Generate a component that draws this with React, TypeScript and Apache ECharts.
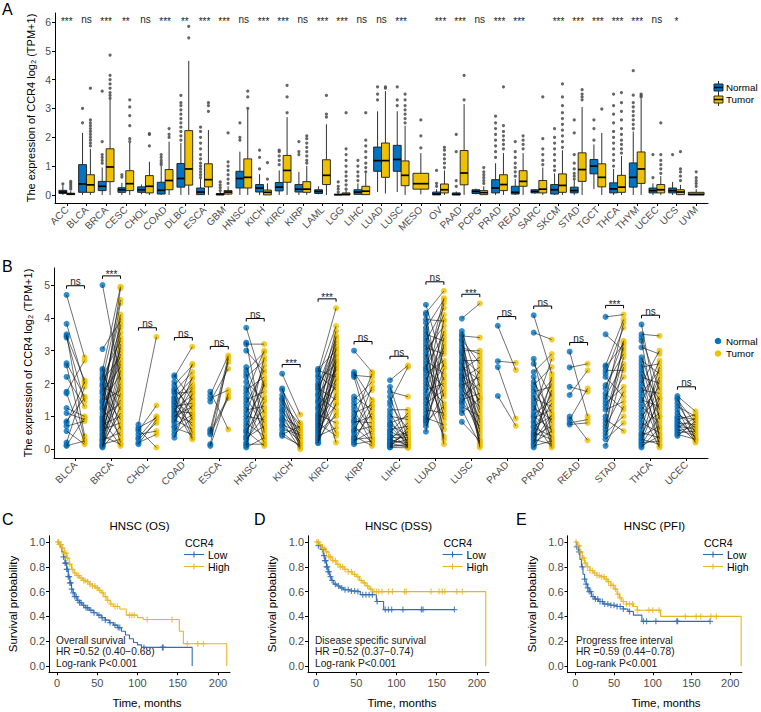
import React, { useEffect, useRef } from 'react';
import * as echarts from 'echarts';

const FONT = '"Liberation Sans", Arial, Helvetica, sans-serif';
const BLUE = '#0073C2';
const YELLOW = '#EFC000';
const KM_BLUE = '#2f6db5';
const KM_YELLOW = '#e8b623';
const TICK_COLOR = '#4d4d4d';

// ---------------- Panel A ----------------
const catsA = ['ACC', 'BLCA', 'BRCA', 'CESC', 'CHOL', 'COAD', 'DLBC', 'ESCA', 'GBM', 'HNSC', 'KICH', 'KIRC', 'KIRP', 'LAML', 'LGG', 'LIHC', 'LUAD', 'LUSC', 'MESO', 'OV', 'PAAD', 'PCPG', 'PRAD', 'READ', 'SARC', 'SKCM', 'STAD', 'TGCT', 'THCA', 'THYM', 'UCEC', 'UCS', 'UVM'];
const sigA = ['***', 'ns', '***', '**', 'ns', '***', '**', '***', '***', 'ns', '***', '***', 'ns', '***', '***', 'ns', 'ns', '***', '', '***', '***', 'ns', '***', '***', '', '***', '***', '***', '***', '***', 'ns', '*', ''];
// [min, Q1, median, Q3, max]
const normalBoxA: (number[] | null)[] = [
  [0, 0.05, 0.1, 0.16, 0.33], [0, 0.09, 0.38, 1.05, 2.15], [0, 0.15, 0.3, 0.47, 0.95], [0, 0.09, 0.18, 0.25, 0.42],
  [0.02, 0.09, 0.18, 0.28, 0.36], [0, 0.03, 0.16, 0.44, 1.0], [0, 0.27, 0.57, 1.09, 1.8], [0, 0.01, 0.1, 0.24, 0.55],
  [0, 0, 0.02, 0.05, 0.1], [0, 0.24, 0.57, 0.82, 1.5], [0, 0.1, 0.24, 0.36, 0.72], [0, 0.14, 0.27, 0.43, 0.85],
  [0, 0.1, 0.2, 0.36, 0.8], [0.02, 0.05, 0.12, 0.18, 0.3], [0, 0, 0.01, 0.02, 0.05], [0, 0.02, 0.1, 0.18, 0.4],
  [0.1, 0.82, 1.19, 1.66, 2.9], [0.1, 0.82, 1.23, 1.72, 2.9], null, [0, 0, 0.03, 0.1, 0.2],
  [0, 0, 0.02, 0.07, 0.12], [0.02, 0.05, 0.12, 0.18, 0.22], [0, 0.07, 0.24, 0.53, 1.1], [0, 0.03, 0.09, 0.3, 0.55],
  [0.04, 0.07, 0.12, 0.18, 0.2], [0, 0.03, 0.18, 0.36, 0.75], [0, 0.07, 0.15, 0.27, 0.5], [0.2, 0.73, 1.0, 1.23, 1.75],
  [0, 0.07, 0.21, 0.42, 0.9], [0, 0.27, 0.61, 1.11, 2.2], [0, 0.07, 0.15, 0.24, 0.4], [0, 0.07, 0.15, 0.24, 0.45], null,
];
const tumorBoxA: number[][] = [
  [0, 0.01, 0.03, 0.06, 0.13], [0, 0.09, 0.35, 0.7, 1.6], [0, 0.46, 0.97, 1.6, 3.3], [0, 0.15, 0.39, 0.84, 1.8],
  [0, 0.07, 0.3, 0.67, 1.15], [0, 0.18, 0.5, 0.88, 1.85], [0, 0.34, 0.9, 2.23, 4.65], [0, 0.28, 0.53, 1.08, 2.25],
  [0, 0.03, 0.1, 0.15, 0.3], [0, 0.24, 0.61, 1.25, 2.95], [0, 0, 0.09, 0.17, 0.4], [0, 0.44, 0.85, 1.37, 2.7],
  [0, 0.09, 0.2, 0.46, 1.0], [0, 0.36, 0.68, 1.22, 2.45], [0, 0, 0.02, 0.07, 0.15], [0, 0.01, 0.13, 0.3, 0.75],
  [0.05, 0.61, 1.19, 1.8, 3.6], [0, 0.32, 0.68, 1.18, 2.4], [0.02, 0.2, 0.39, 0.75, 1.45], [0, 0.07, 0.18, 0.38, 0.85],
  [0, 0.35, 0.76, 1.54, 3.15], [0, 0.01, 0.08, 0.15, 0.3], [0, 0.15, 0.36, 0.7, 1.45], [0, 0.3, 0.47, 0.84, 1.45],
  [0, 0.07, 0.2, 0.5, 0.95], [0, 0.09, 0.33, 0.73, 1.55], [0, 0.47, 0.88, 1.46, 3.05], [0, 0.28, 0.61, 1.08, 2.15],
  [0, 0.09, 0.27, 0.68, 1.35], [0, 0.4, 0.9, 1.49, 3.35], [0, 0.07, 0.18, 0.36, 0.65], [0, 0.01, 0.1, 0.18, 0.35], [0, 0, 0.02, 0.09, 0.2],
];
const normalOutA: number[][] = [
  [0.38], [2.5, 3.0], [1.1, 1.2, 1.3, 1.4, 1.85, 3.6], [0.62, 0.7], [], [1.05, 1.12, 1.2, 1.3, 1.4],
  [1.9, 2.05, 2.2, 2.35, 2.5, 2.65, 2.8, 2.95, 3.1, 3.2, 3.45], [0.6, 0.7, 0.8, 0.9, 1.0, 1.1, 1.25, 1.4, 1.6, 1.8, 2.0, 2.2, 2.35],
  [0.15, 0.25, 0.35, 0.45], [1.9, 2.0, 2.5], [0.9, 1.3, 1.55], [1.05, 1.2, 1.35, 1.5, 1.55], [1.4, 1.5, 1.85], [],
  [0.1, 0.2, 0.3, 0.45], [0.5, 0.65, 0.8, 1.0, 1.2], [3.3, 3.5, 3.75], [3.1, 3.3, 3.75], [], [0.3, 0.4, 0.85],
  [0.3, 0.5, 1.5, 2.1], [], [1.3, 1.5, 1.7, 1.9, 2.1, 2.3, 2.5, 2.73], [0.65, 0.8, 0.95, 1.1, 1.3, 1.5, 1.85], [],
  [0.85, 1.0, 1.2, 1.4, 1.6, 1.8, 2.0, 2.3], [0.55, 0.65, 0.75, 0.9, 1.1, 1.4, 2.15, 2.6], [1.9, 2.3, 2.6],
  [1.0, 1.2, 1.4, 1.6, 1.8, 2.0, 2.2, 2.5, 2.8, 3.1, 3.5], [2.3, 2.45, 2.6, 2.75, 2.9, 3.05, 3.2, 3.46, 4.31], [0.6, 1.4], [1.4], [],
];
const tumorOutA: number[][] = [
  [0.2, 0.27, 0.34, 0.41, 0.47], [1.7, 1.8, 1.9, 2.0, 2.1, 2.2, 2.3, 2.4, 2.5, 2.6, 3.7], [3.35, 3.45, 3.55, 3.7, 3.85, 4.0, 4.15, 4.85],
  [1.85, 1.95, 2.4, 2.75, 3.05, 3.3], [1.7, 2.1, 2.13], [2.0, 2.1, 2.3], [5.45, 5.85], [2.9, 3.1, 3.2],
  [0.4, 0.55, 0.7, 0.85, 1.0, 1.15, 2.15], [3.0, 3.4, 3.6], [0.55, 1.12], [2.85, 3.4, 3.8],
  [1.1, 1.2, 1.35, 1.5, 1.65, 1.8, 1.95, 2.05], [2.7, 2.8, 3.45], [0.2, 0.35, 0.5, 0.65, 0.8, 1.0, 1.2, 1.4, 1.6, 2.85],
  [0.8, 0.95, 1.1, 1.3, 1.5, 1.7, 1.9, 2.85], [3.7, 3.75], [2.5, 2.65, 2.8, 2.95, 3.1, 3.3, 3.5], [1.63, 2.05, 2.6],
  [0.95, 1.1, 1.25, 1.4, 1.55, 1.65], [3.3, 4.15], [0.4, 0.5, 0.6, 0.7, 0.8, 0.95], [1.6, 1.75, 1.9, 2.05, 2.2, 2.4, 3.75],
  [1.6, 1.75, 1.9, 2.05], [1.05, 1.2, 1.4, 1.6, 1.95, 3.4], [1.65, 1.85, 2.05, 2.25, 2.45, 2.65, 2.85, 3.1, 3.4, 3.85],
  [3.3, 3.4, 3.5, 3.65], [2.98], [1.45, 1.6, 1.75, 1.9, 2.1, 2.3, 2.6, 2.9, 3.2, 3.55], [3.4, 3.45, 3.5],
  [0.75, 0.9, 1.05, 1.2, 1.4, 2.5], [0.5, 0.65, 0.8, 0.9, 1.5], [0.3, 0.4, 0.5, 0.6, 0.8],
];

// ---------------- Panel B (paired: normalB[k][i] <-> tumorB[k][i]) ----------------
const catsB = ['BLCA', 'BRCA', 'CHOL', 'COAD', 'ESCA', 'HNSC', 'KICH', 'KIRC', 'KIRP', 'LIHC', 'LUAD', 'LUSC', 'PAAD', 'PRAD', 'READ', 'STAD', 'THCA', 'UCEC'];
const sigB = ['ns', '***', 'ns', 'ns', 'ns', 'ns', '***', '***', 'ns', 'ns', 'ns', '***', 'ns', 'ns', 'ns', '***', 'ns', 'ns'];
const normalB: number[][] = [
  [4.7, 3.82, 3.5, 3.45, 3.4, 2.62, 2.55, 2.2, 1.75, 1.7, 1.25, 1.1, 0.85, 0.8, 0.7, 0.55, 0.2, 0.12, 0.1],
  [5.0, 3.05, 2.45, 2.4, 2.3, 2.2, 2.15, 2.1, 2.0, 1.95, 1.9, 1.8, 1.75, 1.7, 1.6, 1.5, 1.45, 1.4, 1.3, 1.25, 1.2, 1.1, 1.0, 0.95, 0.9, 0.85, 0.8, 0.75, 0.7, 0.65, 0.6, 0.55, 0.5, 0.45, 0.4, 0.35, 0.3, 0.28, 0.25, 0.2, 0.15, 0.12, 0.1, 0.08, 0.05],
  [0.75, 0.65, 0.6, 0.55, 0.45, 0.35, 0.3, 0.2, 0.15],
  [2.25, 2.2, 2.05, 1.95, 1.85, 1.8, 1.75, 1.7, 1.6, 1.55, 1.5, 1.45, 1.4, 1.35, 1.3, 1.25, 1.2, 1.15, 1.1, 1.05, 1.0, 0.95, 0.9, 0.85, 0.8, 0.7, 0.65, 0.55, 0.45, 0.35],
  [1.75, 1.65, 1.55, 1.45, 0.6, 0.55, 0.5, 0.45, 0.15, 0.1],
  [3.7, 3.25, 3.2, 3.0, 2.5, 2.4, 2.3, 2.2, 2.05, 1.9, 1.8, 1.7, 1.6, 1.5, 1.4, 1.3, 1.2, 1.1, 1.0, 0.9, 0.8, 0.7, 0.6, 0.55, 0.5, 0.4, 0.35, 0.3, 0.2, 0.15, 0.1, 0.05],
  [2.3, 1.85, 1.8, 1.65, 1.55, 1.5, 1.4, 1.3, 1.2, 1.15, 1.05, 0.95, 0.9, 0.85, 0.75, 0.7, 0.6, 0.5, 0.45, 0.4],
  [2.45, 2.4, 2.35, 2.25, 2.2, 2.1, 2.0, 1.95, 1.9, 1.85, 1.8, 1.7, 1.65, 1.6, 1.5, 1.45, 1.4, 1.3, 1.25, 1.2, 1.1, 1.05, 1.0, 0.95, 0.9, 0.85, 0.8, 0.75, 0.7, 0.65, 0.6, 0.55, 0.5, 0.45, 0.4, 0.35, 0.3, 0.25, 0.2, 0.18],
  [3.0, 2.35, 2.3, 2.25, 2.2, 1.6, 1.5, 1.4, 1.3, 1.2, 1.1, 1.0, 0.9, 0.85, 0.8, 0.7, 0.6, 0.55, 0.5, 0.4, 0.35, 0.3, 0.25, 0.2, 0.15],
  [2.1, 1.9, 1.75, 1.6, 1.45, 1.35, 1.2, 1.1, 1.0, 0.9, 0.8, 0.75, 0.7, 0.6, 0.55, 0.5, 0.45, 0.4, 0.35, 0.3, 0.28, 0.25, 0.2, 0.18, 0.15, 0.12, 0.1, 0.08, 0.06, 0.05],
  [4.4, 4.15, 4.1, 3.95, 3.85, 3.7, 3.6, 3.5, 3.4, 3.3, 3.2, 3.1, 3.0, 2.9, 2.8, 2.7, 2.6, 2.5, 2.45, 2.4, 2.3, 2.2, 2.1, 2.0, 1.9, 1.8, 1.7, 1.6, 1.5, 1.4, 1.3, 1.2, 1.1, 1.0, 0.95, 0.9, 0.85, 0.8, 0.7, 0.53],
  [3.98, 3.6, 3.5, 3.45, 3.35, 3.3, 3.2, 3.1, 3.0, 2.95, 2.9, 2.8, 2.7, 2.65, 2.6, 2.5, 2.45, 2.4, 2.3, 2.25, 2.2, 2.15, 2.1, 2.0, 1.95, 1.9, 1.8, 1.7, 1.6, 1.5, 1.45, 1.4, 1.3, 1.2, 1.1, 0.83],
  [3.76, 2.68, 2.5, 1.62],
  [4.08, 3.55, 2.75, 2.6, 2.35, 2.2, 2.05, 1.95, 1.85, 1.75, 1.65, 1.55, 1.45, 1.35, 1.25, 1.15, 1.05, 1.0, 0.95, 0.85, 0.8, 0.7, 0.65, 0.55, 0.5, 0.45, 0.4, 0.35, 0.3, 0.25, 0.2, 0.15, 0.1, 0.05],
  [2.97, 2.49, 1.9, 1.65, 0.99, 0.9, 0.8, 0.75],
  [4.03, 3.5, 2.55, 2.5, 2.4, 2.3, 2.2, 1.95, 1.85, 1.7, 1.6, 1.5, 1.4, 1.3, 1.2, 1.0, 0.9, 0.8, 0.7, 0.6, 0.5, 0.4, 0.3, 0.1],
  [3.8, 3.5, 3.4, 3.3, 3.1, 2.8, 2.7, 2.6, 2.5, 2.4, 2.3, 2.2, 2.1, 2.0, 1.9, 1.8, 1.7, 1.6, 1.5, 1.4, 1.3, 1.2, 1.1, 1.0, 0.9, 0.8, 0.7, 0.6, 0.5, 0.45, 0.4, 0.35, 0.3, 0.25, 0.2, 0.15, 0.1, 0.05],
  [1.62, 1.55, 1.5, 1.4, 1.3, 1.2, 1.1, 1.0, 0.95, 0.9, 0.85, 0.8, 0.75, 0.7, 0.65, 0.6, 0.55, 0.5, 0.45, 0.4],
];
const tumorB: number[][] = [
  [2.8, 2.0, 0.4, 2.1, 1.45, 1.6, 0.3, 1.3, 2.7, 0.2, 1.0, 0.9, 1.55, 2.05, 0.85, 0.15, 1.9, 0.95, 0.25],
  [2.1, 3.9, 0.6, 4.95, 1.2, 3.3, 4.55, 2.8, 0.2, 3.7, 1.6, 4.1, 2.5, 0.9, 3.0, 4.45, 1.8, 2.3, 3.55, 0.4, 4.9, 2.7, 1.4, 3.1, 0.1, 2.9, 4.0, 1.0, 3.4, 2.0, 0.8, 3.8, 1.5, 2.6, 0.15, 3.2, 1.9, 0.5, 2.4, 1.1, 0.3, 1.7, 2.2, 1.3, 0.7],
  [3.42, 0.95, 0.05, 1.33, 0.55, 1.0, 0.8, 0.45, 0.9],
  [1.5, 3.12, 0.9, 2.55, 1.2, 0.5, 2.35, 1.75, 0.35, 2.15, 1.0, 1.9, 0.7, 2.0, 1.4, 0.3, 1.65, 1.1, 2.6, 0.8, 1.3, 1.85, 0.6, 1.55, 2.2, 1.05, 0.45, 1.35, 0.95, 1.7],
  [0.6, 2.85, 1.8, 2.45, 2.8, 1.6, 2.65, 1.55, 2.75, 1.7],
  [1.9, 0.5, 3.2, 2.35, 1.1, 2.95, 0.3, 2.7, 1.5, 0.8, 2.2, 3.0, 0.6, 1.75, 2.4, 0.2, 1.3, 2.55, 0.9, 1.95, 0.4, 2.1, 1.2, 0.1, 1.6, 2.8, 0.7, 1.0, 1.45, 0.15, 2.0, 0.35],
  [1.05, 0.3, 0.8, 0.15, 0.6, 0.05, 0.75, 0.4, 0.2, 0.55, 0.1, 0.65, 0.35, 0.0, 0.5, 0.25, 0.45, 0.08, 0.7, 0.12],
  [3.0, 2.2, 4.3, 1.8, 3.75, 2.6, 0.2, 3.4, 2.9, 1.5, 3.2, 2.4, 3.6, 1.2, 2.75, 3.3, 0.5, 2.1, 3.1, 1.9, 2.5, 0.8, 3.45, 2.3, 1.6, 2.85, 0.4, 2.0, 3.05, 1.35, 2.65, 1.0, 2.45, 1.7, 0.65, 2.15, 1.1, 2.55, 1.4, 2.7],
  [2.35, 1.5, 0.9, 2.2, 0.3, 1.2, 2.05, 0.6, 1.8, 0.15, 1.35, 0.45, 2.3, 0.8, 1.0, 0.2, 1.45, 0.7, 1.9, 0.1, 1.1, 0.35, 0.55, 1.3, 0.25],
  [2.55, 0.3, 1.6, 0.1, 2.5, 0.6, 1.2, 0.2, 0.9, 0.05, 1.0, 0.4, 0.15, 0.7, 0.25, 1.1, 0.08, 0.5, 0.35, 0.12, 0.8, 0.2, 0.45, 0.06, 0.3, 0.55, 0.1, 0.15, 0.65, 0.04],
  [2.5, 4.82, 1.2, 3.9, 0.3, 4.55, 2.1, 3.3, 1.6, 4.3, 0.15, 2.9, 3.75, 1.0, 4.1, 2.3, 0.6, 3.5, 1.9, 4.6, 2.7, 0.9, 3.1, 1.4, 4.45, 2.0, 3.6, 0.4, 2.6, 1.8, 3.0, 1.1, 3.95, 2.2, 0.75, 3.4, 1.3, 2.45, 1.7, 3.2],
  [4.44, 1.9, 0.1, 3.4, 2.6, 1.2, 0.5, 2.9, 3.0, 1.6, 0.05, 2.3, 2.7, 0.8, 1.4, 2.1, 0.3, 2.8, 1.1, 1.8, 0.2, 2.5, 1.5, 0.9, 2.2, 0.6, 1.3, 0.4, 2.0, 1.7, 0.7, 2.4, 1.0, 0.15, 1.55, 0.25],
  [2.41, 2.63, 0.93, 0.71],
  [2.3, 3.34, 0.5, 1.6, 2.9, 0.2, 1.1, 2.5, 0.8, 1.9, 0.1, 1.3, 2.1, 0.35, 0.9, 2.75, 1.5, 0.6, 1.2, 0.05, 2.0, 1.0, 0.4, 1.7, 0.3, 1.4, 0.7, 1.8, 0.15, 1.05, 0.55, 2.2, 0.25, 0.95],
  [1.0, 2.6, 1.75, 2.4, 0.27, 1.85, 0.9, 0.8],
  [4.1, 3.0, 3.95, 3.2, 2.4, 3.7, 1.6, 2.9, 3.3, 1.2, 2.6, 3.85, 1.9, 2.2, 1.45, 3.1, 0.55, 2.8, 1.75, 3.25, 1.0, 2.5, 0.8, 1.3],
  [0.9, 3.45, 1.8, 0.3, 2.9, 1.2, 2.3, 0.6, 2.6, 1.5, 0.1, 2.0, 1.0, 3.0, 0.45, 1.7, 2.4, 0.2, 1.3, 2.7, 0.8, 1.9, 0.05, 1.6, 2.2, 0.5, 1.1, 2.5, 0.35, 1.4, 0.7, 2.1, 0.15, 1.55, 0.25, 1.0, 0.4, 0.65],
  [1.15, 0.3, 0.8, 0.5, 1.0, 0.2, 0.65, 0.9, 0.35, 1.05, 0.45, 0.75, 0.25, 0.6, 0.95, 0.4, 0.7, 0.55, 0.3, 0.85],
];

// ---------------- Panels C/D/E: Kaplan-Meier [time, survival] ----------------
const osLow = [[0, 1], [2, 0.98], [4, 0.96], [6, 0.92], [8, 0.88], [10, 0.83], [12, 0.78], [14, 0.72], [16, 0.67], [18, 0.62], [20, 0.59], [22, 0.56], [25, 0.53], [28, 0.51], [31, 0.49], [35, 0.47], [40, 0.45], [45, 0.43], [50, 0.41], [55, 0.39], [60, 0.37], [65, 0.35], [70, 0.33], [75, 0.31], [80, 0.28], [85, 0.25], [90, 0.22], [95, 0.19], [100, 0.17], [105, 0.15], [168, 0]];
const osHigh = [[0, 1], [3, 0.98], [6, 0.95], [9, 0.91], [12, 0.87], [15, 0.82], [18, 0.78], [21, 0.75], [24, 0.73], [28, 0.71], [32, 0.69], [36, 0.68], [40, 0.66], [44, 0.645], [48, 0.63], [52, 0.61], [55, 0.59], [58, 0.56], [62, 0.53], [66, 0.5], [70, 0.48], [78, 0.46], [86, 0.41], [100, 0.39], [107, 0.375], [152, 0.28], [157, 0.18], [211, 0]];
const osLowCens = [8, 10, 11, 12, 13, 14, 15, 16, 17, 18, 20, 22, 24, 26, 28, 30, 33, 36, 38, 42, 46, 52, 56, 60, 66, 72, 76, 78, 108, 131, 132];
const osHighCens = [1, 2, 3, 4, 5, 7, 9, 11, 13, 16, 19, 22, 25, 27, 30, 33, 35, 38, 41, 44, 47, 50, 53, 57, 60, 63, 67, 72, 75, 90, 93, 96, 112, 143, 162, 175, 182];

const dssLow = [[0, 1], [3, 0.97], [6, 0.94], [9, 0.89], [11, 0.85], [13, 0.8], [15, 0.76], [17, 0.72], [19, 0.69], [22, 0.66], [26, 0.645], [30, 0.63], [34, 0.615], [42, 0.605], [52, 0.6], [55, 0.575], [75, 0.52], [84, 0.455], [172, 0.455]];
const dssHigh = [[0, 1], [4, 0.98], [8, 0.95], [12, 0.92], [16, 0.88], [20, 0.85], [25, 0.82], [30, 0.8], [35, 0.78], [40, 0.76], [45, 0.74], [50, 0.72], [54, 0.69], [58, 0.67], [62, 0.645], [66, 0.62], [70, 0.6], [211, 0]];
const dssLowCens = [3, 8, 10, 11, 12, 13, 14, 15, 16, 18, 20, 24, 28, 32, 36, 40, 44, 48, 52, 58, 62, 66, 70, 76, 86, 90, 94, 108, 131, 133, 172];
const dssHighCens = [1, 3, 5, 8, 10, 13, 16, 18, 21, 24, 27, 30, 33, 36, 40, 44, 48, 52, 56, 60, 64, 68, 72, 75, 78, 82, 90, 95, 110, 112, 143, 153, 157, 160, 175, 182];

const pfiLow = [[0, 1], [2, 0.96], [4, 0.92], [6, 0.86], [8, 0.8], [10, 0.74], [12, 0.7], [14, 0.66], [16, 0.63], [18, 0.6], [21, 0.56], [25, 0.54], [30, 0.52], [36, 0.5], [45, 0.49], [54, 0.48], [62, 0.46], [68, 0.44], [75, 0.41], [86, 0.36], [174, 0.36]];
const pfiHigh = [[0, 1], [3, 0.97], [6, 0.92], [9, 0.87], [12, 0.83], [15, 0.8], [19, 0.77], [23, 0.75], [28, 0.73], [33, 0.72], [38, 0.7], [42, 0.68], [46, 0.65], [50, 0.62], [54, 0.58], [57, 0.55], [60, 0.52], [66, 0.5], [75, 0.48], [80, 0.45], [110, 0.4], [214, 0]];
const pfiLowCens = [2, 5, 9, 12, 14, 16, 18, 20, 23, 26, 29, 32, 35, 38, 42, 46, 50, 54, 58, 62, 70, 88, 92, 104, 131, 132, 174];
const pfiHighCens = [1, 3, 5, 7, 9, 11, 13, 16, 19, 22, 25, 28, 31, 34, 37, 40, 43, 46, 49, 52, 55, 58, 62, 66, 70, 74, 80, 95, 100, 108, 142, 156, 162, 175, 182];

const kmTitles = ['HNSC (OS)', 'HNSC (DSS)', 'HNSC (PFI)'];
const kmNotes = [
  ['Overall survival', 'HR =0.52 (0.40\u22120.68)', 'Log-rank P<0.001'],
  ['Disease specific survival', 'HR =0.52 (0.37\u22120.74)', 'Log-rank P<0.001'],
  ['Progress free interval', 'HR =0.59 (0.44\u22120.78)', 'Log-rank P<0.001'],
];
const kmTimeTicks = [0, 50, 100, 150, 200];
const kmSurvTicks = [0, 0.2, 0.4, 0.6, 0.8, 1];

function survAt(curve: number[][], t: number) {
  let s = 1;
  for (const [tt, ss] of curve) {
    if (tt <= t) s = ss;
    else break;
  }
  return s;
}

const axisLineStyle = { show: true, onZero: false, lineStyle: { color: '#000', width: 1 } };
const axisTickBase = { show: true, length: 3, lineStyle: { color: '#000', width: 1 } };

function buildOption(): any {
  const idxA = catsA.map((_, i) => i + 1);
  const idxB = catsB.map((_, i) => i + 1);

  // Panel A boxes
  const boxData: any[] = [];
  const outN: number[][] = [];
  const outT: number[][] = [];
  catsA.forEach((_, i) => {
    const n = normalBoxA[i];
    const t = tumorBoxA[i];
    const x = i + 1;
    if (n) {
      boxData.push([x, -0.2, 0.4, ...n, 0]);
      boxData.push([x, 0.2, 0.4, ...t, 1]);
      normalOutA[i].forEach((v) => outN.push([x - 0.2, v]));
      tumorOutA[i].forEach((v) => outT.push([x + 0.2, v]));
    } else {
      boxData.push([x, 0, 0.8, ...t, 1]);
      tumorOutA[i].forEach((v) => outT.push([x, v]));
    }
  });

  // Panel B
  const ptsN: number[][] = [];
  const ptsT: number[][] = [];
  const pairs: number[][] = [];
  const brackets: number[][] = [];
  catsB.forEach((_, k) => {
    const x = k + 1;
    const nn = normalB[k];
    const tt = tumorB[k];
    const m = Math.min(nn.length, tt.length);
    for (let i = 0; i < m; i++) {
      ptsN.push([x - 0.25, nn[i]]);
      ptsT.push([x + 0.25, tt[i]]);
      pairs.push([x, nn[i], tt[i]]);
    }
    const mx = Math.max(...nn, ...tt);
    brackets.push([x, mx + 0.28, k]);
  });

  const kmSets = [
    { low: osLow, high: osHigh, lowC: osLowCens, highC: osHighCens },
    { low: dssLow, high: dssHigh, lowC: dssLowCens, highC: dssHighCens },
    { low: pfiLow, high: pfiHigh, lowC: pfiLowCens, highC: pfiHighCens },
  ];
  const kmGrids = [
    { left: 49, top: 535.8, width: 181, height: 136.4 },
    { left: 308, top: 535.8, width: 181, height: 136.4 },
    { left: 567.5, top: 535.8, width: 174.4, height: 136.4 },
  ];

  const plusSymbol = 'path://M4,0H6V4H10V6H6V10H4V6H0V4H4Z';

  const series: any[] = [
    {
      type: 'custom', xAxisIndex: 0, yAxisIndex: 0, data: boxData, z: 3,
      encode: { x: 0, y: [3, 4, 5, 6, 7] },
      renderItem: (_p: any, api: any) => {
        const x = api.value(0) + api.value(1);
        const bw = api.size([api.value(2), 0])[0];
        const cx = api.coord([x, 0])[0];
        const yMin = api.coord([x, api.value(3)])[1];
        const yQ1 = api.coord([x, api.value(4)])[1];
        const yMed = api.coord([x, api.value(5)])[1];
        const yQ3 = api.coord([x, api.value(6)])[1];
        const yMax = api.coord([x, api.value(7)])[1];
        const fill = api.value(8) === 0 ? BLUE : YELLOW;
        const st = { stroke: '#1a1a1a', lineWidth: 0.9 };
        return {
          type: 'group',
          children: [
            { type: 'line', shape: { x1: cx, y1: yMax, x2: cx, y2: yQ3 }, style: st },
            { type: 'line', shape: { x1: cx, y1: yQ1, x2: cx, y2: yMin }, style: st },
            { type: 'rect', shape: { x: cx - bw / 2, y: yQ3, width: bw, height: Math.max(yQ1 - yQ3, 0.5) }, style: { fill, stroke: '#1a1a1a', lineWidth: 0.9 } },
            { type: 'line', shape: { x1: cx - bw / 2, y1: yMed, x2: cx + bw / 2, y2: yMed }, style: { stroke: '#000', lineWidth: 1.7 } },
          ],
        };
      },
    },
    {
      type: 'scatter', xAxisIndex: 0, yAxisIndex: 0, data: outN, symbolSize: 3.2, z: 2,
      itemStyle: { color: '#4a4a4a', opacity: 0.85 },
    },
    {
      type: 'scatter', xAxisIndex: 0, yAxisIndex: 0, data: outT, symbolSize: 3.2, z: 2,
      itemStyle: { color: '#4a4a4a', opacity: 0.85 },
    },
    {
      type: 'custom', xAxisIndex: 0, yAxisIndex: 0, z: 4,
      data: catsA.map((_, i) => [i + 1, 6.0, i]),
      encode: { x: 0, y: 1 },
      renderItem: (_p: any, api: any) => {
        const i = api.value(2);
        const label = sigA[i];
        const p = api.coord([api.value(0), api.value(1)]);
        return {
          type: 'text', x: p[0], y: label === 'ns' ? p[1] - 2.5 : p[1],
          style: { text: label, align: 'center', verticalAlign: 'middle', fontSize: 10, fill: '#222', fontFamily: FONT },
        };
      },
    },
    // Panel B
    {
      type: 'scatter', xAxisIndex: 1, yAxisIndex: 1, data: ptsN, symbolSize: 6, z: 2,
      itemStyle: { color: BLUE },
    },
    {
      type: 'scatter', xAxisIndex: 1, yAxisIndex: 1, data: ptsT, symbolSize: 6, z: 2,
      itemStyle: { color: YELLOW },
    },
    {
      type: 'custom', xAxisIndex: 1, yAxisIndex: 1, data: pairs, z: 3,
      encode: { x: 0, y: [1, 2] },
      renderItem: (_p: any, api: any) => {
        const x = api.value(0);
        const a = api.coord([x - 0.25, api.value(1)]);
        const b = api.coord([x + 0.25, api.value(2)]);
        return { type: 'line', shape: { x1: a[0], y1: a[1], x2: b[0], y2: b[1] }, style: { stroke: '#111', lineWidth: 0.6 } };
      },
    },
    {
      type: 'custom', xAxisIndex: 1, yAxisIndex: 1, data: brackets, z: 4,
      encode: { x: 0, y: 1 },
      renderItem: (_p: any, api: any) => {
        const x = api.value(0);
        const yb = api.value(1);
        const label = sigB[api.value(2)];
        const p1 = api.coord([x - 0.25, yb]);
        const p2 = api.coord([x + 0.25, yb]);
        const drop = api.size([0, 0.09])[1];
        return {
          type: 'group',
          children: [
            { type: 'polyline', shape: { points: [[p1[0], p1[1] + drop], p1, p2, [p2[0], p2[1] + drop]] }, style: { stroke: '#000', lineWidth: 1, fill: 'none' } },
            { type: 'text', x: (p1[0] + p2[0]) / 2, y: label === 'ns' ? p1[1] + 1 : p1[1] + 4, style: { text: label, align: 'center', verticalAlign: 'bottom', fontSize: 10, fill: '#222', fontFamily: FONT } },
          ],
        };
      },
    },
  ];

  kmSets.forEach((s, j) => {
    const ax = 2 + j;
    series.push({
      type: 'line', xAxisIndex: ax, yAxisIndex: ax, data: s.low, step: 'end', showSymbol: false,
      lineStyle: { color: KM_BLUE, width: 1.1 }, itemStyle: { color: KM_BLUE }, z: 2,
    });
    series.push({
      type: 'line', xAxisIndex: ax, yAxisIndex: ax, data: s.high, step: 'end', showSymbol: false,
      lineStyle: { color: KM_YELLOW, width: 1.1 }, itemStyle: { color: KM_YELLOW }, z: 2,
    });
    series.push({
      type: 'scatter', xAxisIndex: ax, yAxisIndex: ax, symbol: plusSymbol, symbolSize: 6, z: 3,
      data: s.lowC.map((t) => [t, survAt(s.low, t)]), itemStyle: { color: KM_BLUE },
    });
    series.push({
      type: 'scatter', xAxisIndex: ax, yAxisIndex: ax, symbol: plusSymbol, symbolSize: 6, z: 3,
      data: s.highC.map((t) => [t, survAt(s.high, t)]), itemStyle: { color: KM_YELLOW },
    });
  });

  const xAxis: any[] = [
    {
      gridIndex: 0, type: 'value', min: 0.4, max: 33.6, splitLine: { show: false }, axisLine: axisLineStyle,
      axisTick: { ...axisTickBase, customValues: idxA },
      axisLabel: {
        customValues: idxA, formatter: (v: number) => catsA[Math.round(v) - 1] ?? '',
        rotate: 45, fontSize: 10, color: TICK_COLOR, margin: 5, fontFamily: FONT,
      },
    },
    {
      gridIndex: 1, type: 'value', min: 0.4, max: 18.6, splitLine: { show: false }, axisLine: axisLineStyle,
      axisTick: { ...axisTickBase, customValues: idxB },
      axisLabel: {
        customValues: idxB, formatter: (v: number) => catsB[Math.round(v) - 1] ?? '',
        rotate: 45, fontSize: 10, color: TICK_COLOR, margin: 5, fontFamily: FONT,
      },
    },
  ];
  const yAxis: any[] = [
    {
      gridIndex: 0, type: 'value', min: -0.28, max: 6.31, splitLine: { show: false }, axisLine: axisLineStyle,
      axisTick: { ...axisTickBase, customValues: [0, 1, 2, 3, 4, 5, 6] },
      axisLabel: { customValues: [0, 1, 2, 3, 4, 5, 6], fontSize: 10.5, color: TICK_COLOR, margin: 4, fontFamily: FONT },
    },
    {
      gridIndex: 1, type: 'value', min: -0.27, max: 5.52, splitLine: { show: false }, axisLine: axisLineStyle,
      axisTick: { ...axisTickBase, customValues: [0, 1, 2, 3, 4, 5] },
      axisLabel: { customValues: [0, 1, 2, 3, 4, 5], fontSize: 10.5, color: TICK_COLOR, margin: 4, fontFamily: FONT },
    },
  ];
  kmGrids.forEach((_, j) => {
    xAxis.push({
      gridIndex: 2 + j, type: 'value', min: -10, max: 215, splitLine: { show: false }, axisLine: axisLineStyle,
      axisTick: { ...axisTickBase, customValues: kmTimeTicks },
      axisLabel: { customValues: kmTimeTicks, fontSize: 11, color: TICK_COLOR, margin: 5, fontFamily: FONT },
    });
    yAxis.push({
      gridIndex: 2 + j, type: 'value', min: -0.05, max: 1.05, splitLine: { show: false }, axisLine: axisLineStyle,
      axisTick: { ...axisTickBase, customValues: kmSurvTicks },
      axisLabel: { customValues: kmSurvTicks, formatter: (v: number) => v.toFixed(1), fontSize: 11, color: TICK_COLOR, margin: 4, fontFamily: FONT },
    });
  });

  const txt = (x: number, y: number, text: string, o: any = {}) => ({
    type: 'text', x, y, silent: true,
    rotation: o.rotation ?? 0,
    style: {
      text, fontSize: o.fontSize ?? 11, fill: o.fill ?? '#000', fontFamily: FONT,
      align: o.align ?? 'left', verticalAlign: o.verticalAlign ?? 'middle',
    },
  });

  const graphic: any[] = [
    txt(2, 1, 'A', { fontSize: 16, verticalAlign: 'top' }),
    txt(2, 258, 'B', { fontSize: 16, verticalAlign: 'top' }),
    txt(2, 511, 'C', { fontSize: 16, verticalAlign: 'top' }),
    txt(254, 511, 'D', { fontSize: 16, verticalAlign: 'top' }),
    txt(516, 511, 'E', { fontSize: 16, verticalAlign: 'top' }),
    txt(31, 108, 'The expression of CCR4 log\u2082 (TPM+1)', { rotation: Math.PI / 2, align: 'center', fontSize: 11 }),
    txt(28, 363, 'The expression of CCR4 log\u2082 (TPM+1)', { rotation: Math.PI / 2, align: 'center', fontSize: 11 }),
    // legend A
    { type: 'line', shape: { x1: 718.5, y1: 81, x2: 718.5, y2: 94 }, style: { stroke: '#1a1a1a', lineWidth: 0.9 } },
    { type: 'rect', shape: { x: 714, y: 84, width: 9, height: 7 }, style: { fill: BLUE, stroke: '#1a1a1a', lineWidth: 0.9 } },
    { type: 'line', shape: { x1: 714, y1: 87.5, x2: 723, y2: 87.5 }, style: { stroke: '#000', lineWidth: 1.5 } },
    { type: 'line', shape: { x1: 718.5, y1: 93, x2: 718.5, y2: 106 }, style: { stroke: '#1a1a1a', lineWidth: 0.9 } },
    { type: 'rect', shape: { x: 714, y: 96, width: 9, height: 7 }, style: { fill: YELLOW, stroke: '#1a1a1a', lineWidth: 0.9 } },
    { type: 'line', shape: { x1: 714, y1: 99.5, x2: 723, y2: 99.5 }, style: { stroke: '#000', lineWidth: 1.5 } },
    txt(726, 87.5, 'Normal', { fontSize: 9.8 }),
    txt(726, 99.5, 'Tumor', { fontSize: 9.8 }),
    // legend B
    { type: 'circle', shape: { cx: 718, cy: 341, r: 3.3 }, style: { fill: BLUE } },
    { type: 'circle', shape: { cx: 718, cy: 353.5, r: 3.3 }, style: { fill: YELLOW } },
    txt(726, 341, 'Normal', { fontSize: 9.8 }),
    txt(726, 353.5, 'Tumor', { fontSize: 9.8 }),
  ];

  const kmLegendX = [185, 443.5, 704];
  const kmNoteX = [56, 315, 576];
  const kmTitleX = [139.5, 398.5, 654.5];
  const kmYLabelX = [13, 272, 532];
  const kmXLabelX = [147, 402, 666];
  kmGrids.forEach((_, j) => {
    const lx = kmLegendX[j];
    graphic.push(txt(kmTitleX[j], 526, kmTitles[j], { align: 'center', fontSize: 11.5 }));
    graphic.push(txt(lx, 543, 'CCR4', { fontSize: 10.5 }));
    graphic.push({ type: 'line', shape: { x1: lx - 1, y1: 554.5, x2: lx + 19, y2: 554.5 }, style: { stroke: KM_BLUE, lineWidth: 1.1 } });
    graphic.push({ type: 'line', shape: { x1: lx + 9, y1: 551.5, x2: lx + 9, y2: 557.5 }, style: { stroke: KM_BLUE, lineWidth: 1.1 } });
    graphic.push({ type: 'line', shape: { x1: lx - 1, y1: 566.5, x2: lx + 19, y2: 566.5 }, style: { stroke: KM_YELLOW, lineWidth: 1.1 } });
    graphic.push({ type: 'line', shape: { x1: lx + 9, y1: 563.5, x2: lx + 9, y2: 569.5 }, style: { stroke: KM_YELLOW, lineWidth: 1.1 } });
    graphic.push(txt(lx + 23, 554.5, 'Low', { fontSize: 10.5 }));
    graphic.push(txt(lx + 23, 566.5, 'High', { fontSize: 10.5 }));
    kmNotes[j].forEach((line, r) => graphic.push(txt(kmNoteX[j], 640 + r * 11.8, line, { fontSize: 10.2, fill: '#1a1a1a' })));
    graphic.push(txt(kmYLabelX[j], 604, 'Survival probability', { rotation: Math.PI / 2, align: 'center', fontSize: 11.5 }));
    graphic.push(txt(kmXLabelX[j], 703, 'Time, months', { align: 'center', fontSize: 11.5 }));
  });

  return {
    animation: false,
    backgroundColor: '#ffffff',
    textStyle: { fontFamily: FONT },
    grid: [
      { left: 55, top: 13, width: 653, height: 190 },
      { left: 54, top: 268, width: 654, height: 190 },
      ...kmGrids,
    ],
    xAxis,
    yAxis,
    series,
    graphic,
  };
}

export default function App() {
  const ref = useRef<HTMLDivElement>(null);
  useEffect(() => {
    if (!ref.current) return;
    const chart = echarts.init(ref.current, undefined, { renderer: 'svg', width: 761, height: 712 });
    chart.setOption(buildOption());
    return () => chart.dispose();
  }, []);
  return (
    <div
      ref={ref}
      style={{ position: 'absolute', left: 0, top: 0, width: 761, height: 712, background: '#fff' }}
    />
  );
}
